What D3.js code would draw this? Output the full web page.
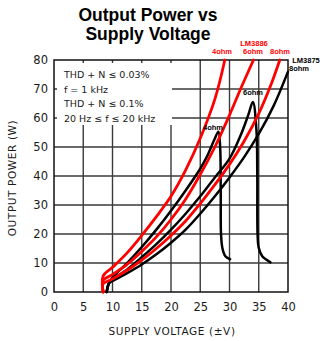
<!DOCTYPE html>
<html>
<head>
<meta charset="utf-8">
<script src="https://cdn.jsdelivr.net/npm/d3@7"></script>
<style>
  html, body { margin: 0; padding: 0; background: #fff; }
  svg { display: block; }
</style>
</head>
<body>
<svg id="chart" width="324" height="341"></svg>
<script>
// Supply voltage (±V) vs output power (W), [volts, watts]
const lm3886_4ohm = [[8.4,0],[8.4,5.5],[10,8.5],[12.5,13.5],[15,19.5],[17.5,26],[20,33],[22.5,42],[25,53],[27.5,66.5],[29.2,80]];
const lm3886_6ohm = [[8.4,0],[8.4,4],[10,6],[12.5,9.5],[15,14],[17.5,19],[20,25],[22.5,32],[25,40.5],[27.5,50],[30,61],[32,70.5],[34.1,80]];
const lm3886_8ohm = [[8.4,0],[8.4,2.8],[10,4.5],[12.5,7.5],[15,11],[17.5,15],[20,19.5],[22.5,24.5],[25,30.5],[27.5,37],[30,44],[32.5,52],[35,61.5],[37,71],[38.6,80]];

const lm3875_4ohm = [[9,0],[9.4,3],[10,5],[12.5,10],[15,15.5],[17.5,21.5],[20,28],[22.5,35],[25,42.5],[26.1,46.5],[27.4,52.5],[28.1,55.3],
  [28.4,50],[28.5,35],[28.55,20],[28.8,15],[29.3,12.3],[30.1,11.3]];
const lm3875_6ohm = [[9,0],[9.4,3],[10,4.3],[12.5,7.8],[15,12],[17.5,16.5],[20,21.5],[22.5,27],[25,33],[27.5,39.5],[30,46],[32,54.5],[33.2,61],[34,65.5],
  [34.6,56],[34.75,40],[34.8,20],[35,15.2],[35.6,12.3],[36.4,11],[37,10.2]];
const lm3875_8ohm = [[9,0],[9.4,3],[10,3.8],[12.5,6.5],[15,9.5],[17.5,13],[20,17],[22.5,21.5],[25,27],[27.5,33],[30,39.5],[32.5,46.5],[35,54.5],[37.5,64],[40,76]];

const xTicks = [0,5,10,15,20,25,30,35,40];
const yTicks = [0,10,20,30,40,50,60,70,80];
const conditions = ["THD + N \u2264 0.03%", "f = 1 kHz", "THD + N \u2264 0.1%", "20 Hz \u2264 f \u2264 20 kHz"];

const svg = d3.select("#chart");
const plot = { left: 54, top: 60, right: 288, bottom: 292 };
const x = d3.scaleLinear().domain([0, 40]).range([plot.left, plot.right]);
const y = d3.scaleLinear().domain([0, 80]).range([plot.bottom, plot.top]);
const plotFont = "'DejaVu Sans', sans-serif";
const ink = "#1a1a1a";

// Title
const title = svg.append("text").attr("text-anchor", "middle")
  .attr("font-family", "'Liberation Sans', Arial, sans-serif").attr("font-weight", "bold")
  .attr("font-size", 17.5);
title.append("tspan").attr("x", 148).attr("y", 21).text("Output Power vs");
title.append("tspan").attr("x", 148).attr("y", 40).text("Supply Voltage");

// Grid
const grid = svg.append("g").attr("stroke", "#3a3a3a").attr("stroke-width", 1.4);
grid.selectAll("line.v").data(xTicks.slice(1, -1)).join("line")
  .attr("x1", d => x(d)).attr("x2", d => x(d)).attr("y1", y(0)).attr("y2", y(80));
grid.selectAll("line.h").data(yTicks.slice(1, -1)).join("line")
  .attr("x1", x(0)).attr("x2", x(40)).attr("y1", d => y(d)).attr("y2", d => y(d));

// Test-condition box masks the grid behind it
svg.append("rect").attr("x", x(0) + 3).attr("y", y(80) + 3)
  .attr("width", 172 - x(0) - 3).attr("height", 125 - y(80) - 3).attr("fill", "#fff");
svg.append("g").selectAll("text").data(conditions).join("text")
  .attr("x", 64).attr("y", (d, i) => 78 + i * 14.7)
  .attr("font-family", plotFont).attr("font-size", 9.5)
  .attr("fill", ink).text(d => d);

// Frame
svg.append("rect").attr("x", x(0)).attr("y", y(80))
  .attr("width", x(40) - x(0)).attr("height", y(0) - y(80))
  .attr("fill", "none").attr("stroke", "#111").attr("stroke-width", 1.5);

// Axes (tick labels only)
const xAxis = svg.append("g").attr("transform", `translate(0,${y(0)})`)
  .call(d3.axisBottom(x).tickValues(xTicks).tickSize(0).tickPadding(11));
const yAxis = svg.append("g").attr("transform", `translate(${x(0)},0)`)
  .call(d3.axisLeft(y).tickValues(yTicks).tickSize(0).tickPadding(6));
[xAxis, yAxis].forEach(a => {
  a.select(".domain").remove();
  a.selectAll("text").attr("font-family", plotFont)
    .attr("font-size", 11.5).attr("fill", ink);
});

svg.append("text").attr("x", 172).attr("y", 335).attr("text-anchor", "middle")
  .attr("font-family", plotFont).attr("font-size", 10.5)
  .attr("letter-spacing", 0.6).attr("fill", ink).text("SUPPLY VOLTAGE (\u00b1V)");
svg.append("text").attr("transform", "translate(16,178) rotate(-90)").attr("text-anchor", "middle")
  .attr("font-family", plotFont).attr("font-size", 10.5)
  .attr("letter-spacing", 0.6).attr("fill", ink).text("OUTPUT POWER (W)");

// Curves
const line = d3.line().x(d => x(d[0])).y(d => y(d[1])).curve(d3.curveCatmullRom.alpha(0.5));
const curves = svg.append("g").attr("fill", "none").attr("stroke-linejoin", "round").attr("stroke-linecap", "round");
[lm3875_4ohm, lm3875_6ohm, lm3875_8ohm].forEach(s =>
  curves.append("path").datum(s).attr("d", line).attr("stroke", "#000").attr("stroke-width", 2.5));
[lm3886_4ohm, lm3886_6ohm, lm3886_8ohm].forEach(s =>
  curves.append("path").datum(s).attr("d", line).attr("stroke", "#ff0000").attr("stroke-width", 2.8));

// Series labels
const lab = (t, px, py, color) => svg.append("text").attr("x", px).attr("y", py)
  .attr("text-anchor", "middle").attr("font-family", "'Liberation Sans', Arial, sans-serif")
  .attr("font-weight", "bold").attr("font-size", 7.5).attr("fill", color).text(t);
lab("LM3886", 254, 46, "#ff0000");
lab("4ohm", 222, 54, "#ff0000");
lab("6ohm", 253, 54, "#ff0000");
lab("8ohm", 280, 54, "#ff0000");
lab("LM3875", 306, 63, "#000");
lab("8ohm", 299, 71, "#000");
lab("6ohm", 253, 95, "#000");
lab("4ohm", 213, 130, "#000");
</script>
</body>
</html>
